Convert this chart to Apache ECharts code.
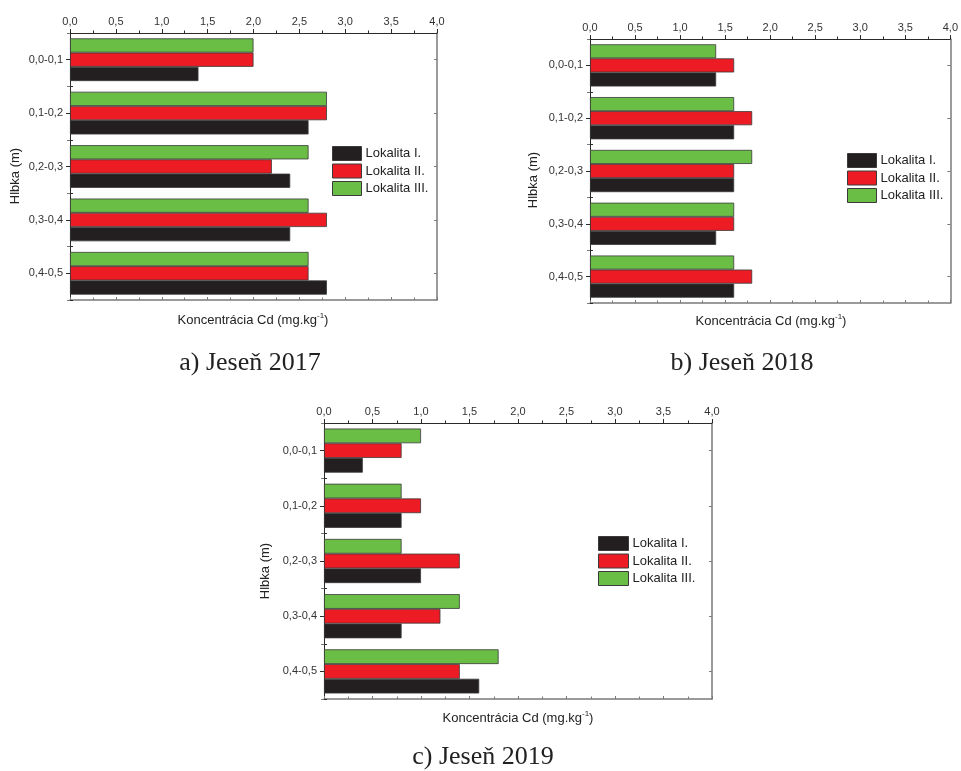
<!DOCTYPE html>
<html>
<head>
<meta charset="utf-8">
<script src="https://cdn.jsdelivr.net/npm/echarts@6/dist/echarts.min.js"></script>
<style>
  html, body { margin: 0; padding: 0; background: #fff; }
  #chart { width: 961px; height: 771px; }
</style>
</head>
<body>
<div id="chart"></div>
<script>
// Depth intervals (m) and concentration axis ticks
const depths = ['0,0-0,1', '0,1-0,2', '0,2-0,3', '0,3-0,4', '0,4-0,5'];
const seriesNames = ['Lokalita I.', 'Lokalita II.', 'Lokalita III.'];
const axisMin = 0, axisMax = 4.0, axisStep = 0.5;

// Cd concentration (mg/kg) per depth, autumn 2017
const cd2017_I   = [1.4, 2.6, 2.4, 2.4, 2.8];
const cd2017_II  = [2.0, 2.8, 2.2, 2.8, 2.6];
const cd2017_III = [2.0, 2.8, 2.6, 2.6, 2.6];

// autumn 2018
const cd2018_I   = [1.4, 1.6, 1.6, 1.4, 1.6];
const cd2018_II  = [1.6, 1.8, 1.6, 1.6, 1.8];
const cd2018_III = [1.4, 1.6, 1.8, 1.6, 1.6];

// autumn 2019
const cd2019_I   = [0.4, 0.8, 1.0, 0.8, 1.6];
const cd2019_II  = [0.8, 1.0, 1.4, 1.2, 1.4];
const cd2019_III = [1.0, 0.8, 0.8, 1.4, 1.8];

const captions = ['a) Jeseň 2017', 'b) Jeseň 2018', 'c) Jeseň 2019'];
const xTitle = 'Koncentrácia Cd (mg.kg';
const yTitle = 'Hlbka (m)';

const colors = ['#231f20', '#ed1c24', '#6abd45'];
const SANS = '"Liberation Sans", Arial, sans-serif';
const SERIF = '"Liberation Serif", "Times New Roman", serif';

// Panel layout: plot rectangles, legend spots, title positions
const panels = [
  { data: [cd2017_I, cd2017_II, cd2017_III],
    grid: { left: 70, top: 33, width: 367, height: 267 },
    legend: { left: 332, top: 146, w: 29 },
    xt: [253, 320], yt: [15, 176], cap: [250, 363] },
  { data: [cd2018_I, cd2018_II, cd2018_III],
    grid: { left: 590, top: 39, width: 363, height: 264 },
    legend: { left: 847, top: 153, w: 29 },
    xt: [771, 321], yt: [533, 180], cap: [742, 363] },
  { data: [cd2019_I, cd2019_II, cd2019_III],
    grid: { left: 324, top: 423, width: 388, height: 276 },
    legend: { left: 598, top: 536, w: 30 },
    xt: [518, 718], yt: [265, 571], cap: [483, 757] }
];

const fmt = v => v.toFixed(1).replace('.', ',');
const dark = '#2a2a2a', gray = '#7a7a7a';

const grid = [], xAxis = [], yAxis = [], series = [], legend = [], graphic = [];

panels.forEach((p, i) => {
  grid.push(Object.assign({ containLabel: false }, p.grid));

  // top value axis with labels
  xAxis.push({
    gridIndex: i, type: 'value', position: 'top',
    min: axisMin, max: axisMax, interval: axisStep,
    axisLine: { show: true, onZero: false, lineStyle: { color: dark, width: 1 } },
    axisTick: { show: true, inside: false, length: 4, lineStyle: { color: dark } },
    minorTick: { show: true, splitNumber: 2, length: 2.5, lineStyle: { color: dark } },
    axisLabel: { formatter: fmt, fontFamily: SANS, fontSize: 11, color: '#333', margin: 6 },
    splitLine: { show: false }
  });
  // bottom mirror axis
  xAxis.push({
    gridIndex: i, type: 'value', position: 'bottom',
    min: axisMin, max: axisMax, interval: axisStep,
    axisLine: { show: true, onZero: false, lineStyle: { color: gray, width: 1.5 } },
    axisTick: { show: true, inside: true, length: 3, lineStyle: { color: gray } },
    minorTick: { show: true, splitNumber: 2, length: 2.5, lineStyle: { color: gray } },
    axisLabel: { show: false },
    splitLine: { show: false }
  });

  const catBase = { gridIndex: i, type: 'category', data: depths, inverse: true, splitLine: { show: false } };
  // left axis with labels, ticks at category centres
  yAxis.push(Object.assign({}, catBase, {
    position: 'left',
    axisLine: { show: true, onZero: false, lineStyle: { color: dark, width: 1 } },
    axisTick: { show: true, alignWithLabel: true, length: 4, lineStyle: { color: dark } },
    axisLabel: { fontFamily: SANS, fontSize: 11, color: '#333', margin: 7 }
  }));
  // left boundary ticks
  yAxis.push(Object.assign({}, catBase, {
    position: 'left',
    axisLine: { show: false },
    axisTick: { show: true, inside: true, length: 3, lineStyle: { color: dark } },
    axisLabel: { show: false }
  }));
  // right mirror axis
  yAxis.push(Object.assign({}, catBase, {
    position: 'right',
    axisLine: { show: true, onZero: false, lineStyle: { color: gray, width: 1.5 } },
    axisTick: { show: true, inside: true, alignWithLabel: true, length: 3, lineStyle: { color: gray } },
    axisLabel: { show: false }
  }));
  yAxis.push(Object.assign({}, catBase, {
    position: 'right',
    axisLine: { show: false },
    axisTick: { show: true, inside: true, length: 3, lineStyle: { color: gray } },
    axisLabel: { show: false }
  }));

  // bars: Lokalita III on top of each group, Lokalita I at the bottom
  [2, 1, 0].forEach(k => {
    series.push({
      type: 'bar', name: seriesNames[k],
      xAxisIndex: i * 2, yAxisIndex: i * 4,
      data: p.data[k],
      barGap: '0%', barCategoryGap: '20%',
      itemStyle: { color: colors[k], borderColor: '#3a3a3a', borderWidth: 0.8 }
    });
  });

  legend.push({
    orient: 'vertical', left: p.legend.left, top: p.legend.top, padding: 0,
    itemWidth: p.legend.w, itemHeight: 14, itemGap: 2.5, icon: 'rect',
    data: seriesNames, selectedMode: false,
    itemStyle: { borderColor: '#3a3a3a', borderWidth: 1 },
    textStyle: { fontFamily: SANS, fontSize: 13, color: '#222', padding: [0, 0, 0, -1] }
  });

  graphic.push({
    type: 'text', x: p.xt[0], y: p.xt[1],
    style: {
      text: '{a|' + xTitle + '}{s|-1}{a|)}',
      align: 'center', verticalAlign: 'middle',
      rich: {
        a: { fontFamily: SANS, fontSize: 13, fill: '#222', lineHeight: 16 },
        s: { fontFamily: SANS, fontSize: 8, fill: '#222', lineHeight: 8, verticalAlign: 'top' }
      }
    }
  });
  graphic.push({
    type: 'text', x: p.yt[0], y: p.yt[1], rotation: Math.PI / 2,
    style: { text: yTitle, font: '13px ' + SANS, fill: '#222', align: 'center', verticalAlign: 'middle' }
  });
  graphic.push({
    type: 'text', x: p.cap[0], y: p.cap[1],
    style: { text: captions[i], font: '26px ' + SERIF, fill: '#222', align: 'center', verticalAlign: 'middle' }
  });
});

const chart = echarts.init(document.getElementById('chart'), null, { renderer: 'canvas' });
chart.setOption({
  animation: false,
  backgroundColor: '#fff',
  grid, xAxis, yAxis, series, legend, graphic
});
</script>
</body>
</html>
